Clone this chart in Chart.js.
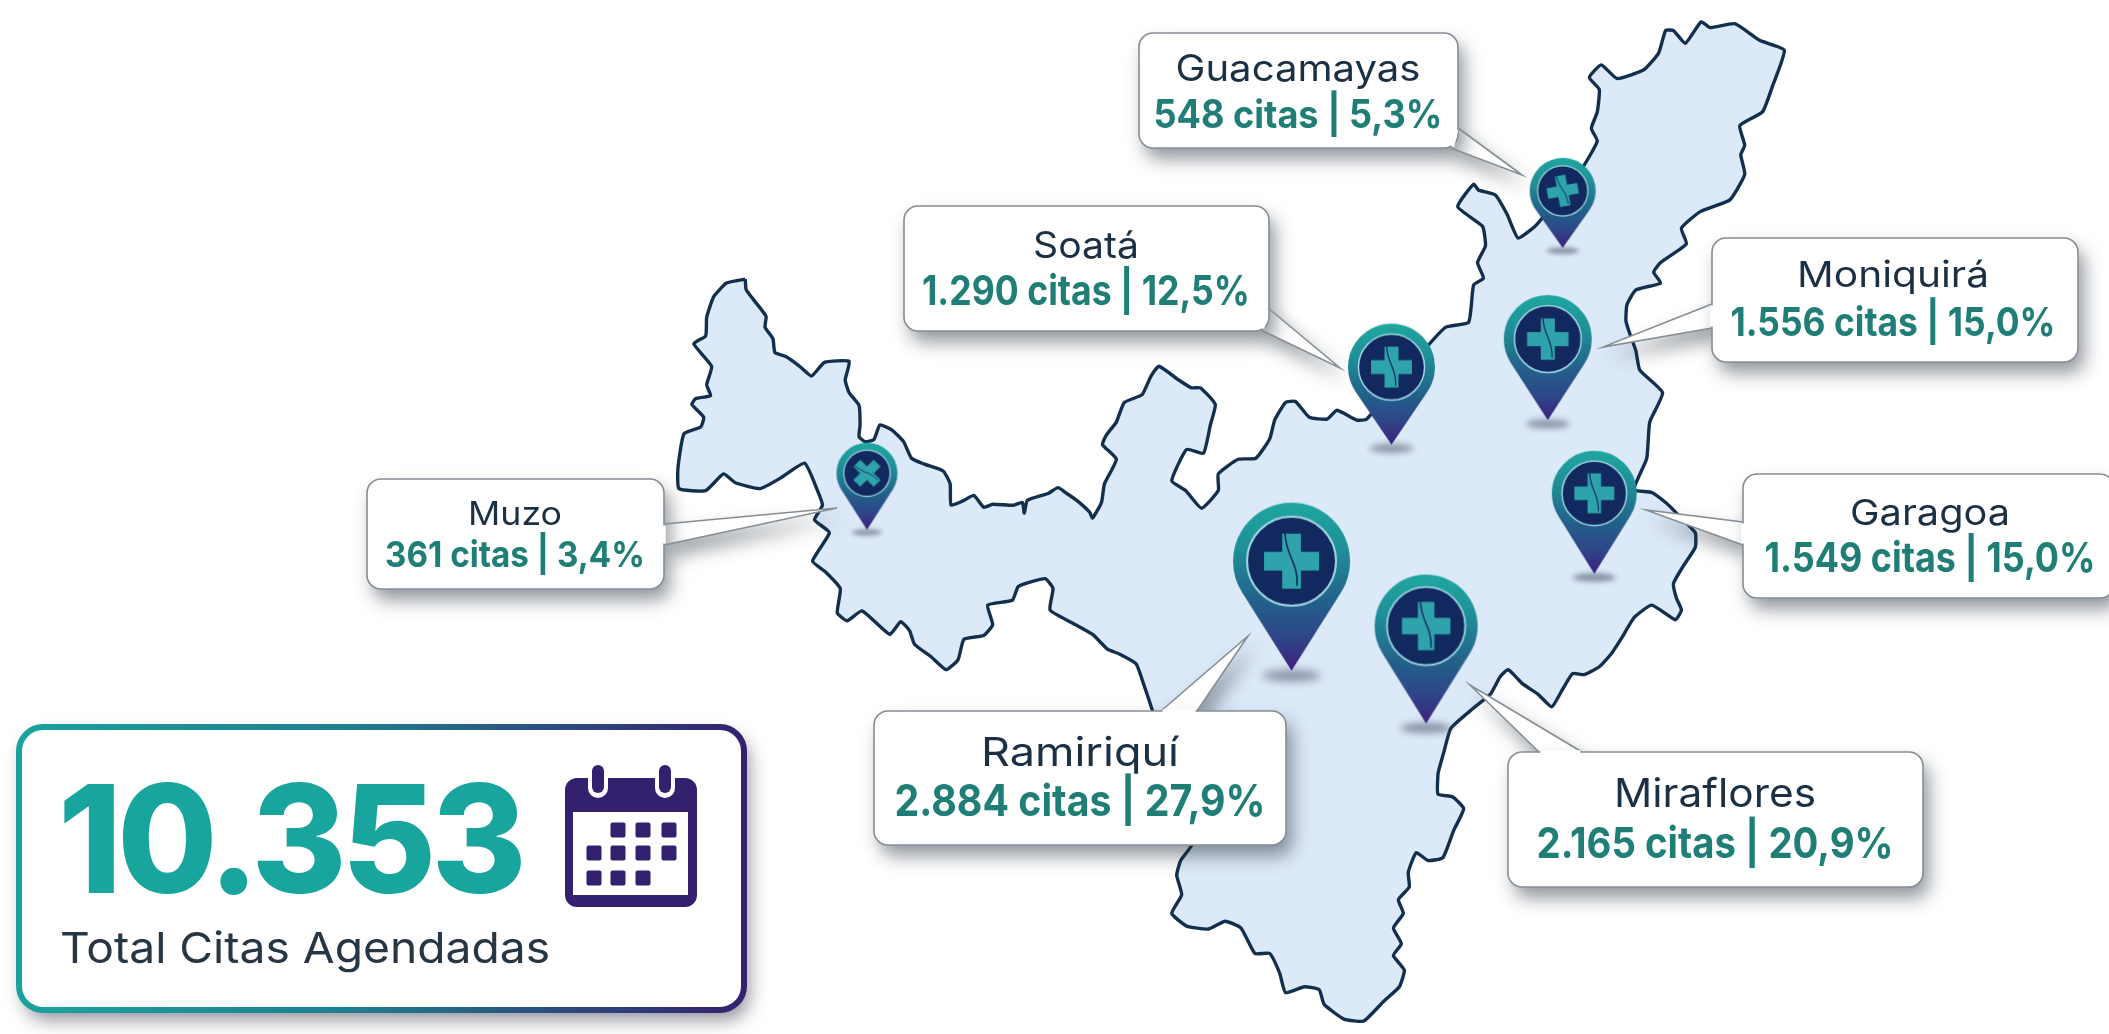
<!DOCTYPE html>
<html lang="es">
<head>
<meta charset="utf-8">
<title>Citas agendadas por sede</title>
<script src="https://cdn.jsdelivr.net/npm/chart.js@4/dist/chart.umd.min.js"></script>
<style>
  html, body { margin: 0; padding: 0; background: #fff; overflow: hidden; }
  canvas { display: block; }
</style>
</head>
<body>
<canvas id="mapa" width="2109" height="1034"></canvas>
<script>
/* global Chart */

// Datos
const sedes = ['Guacamayas', 'Soatá', 'Moniquirá', 'Garagoa', 'Miraflores', 'Ramiriquí', 'Muzo'];
const citas = [548, 1290, 1556, 1549, 2165, 2884, 361];
const porcentajes = [5.3, 12.5, 15.0, 15.0, 20.9, 27.9, 3.4];
const totalCitas = 10353;
const totalTexto = 'Total Citas Agendadas';

// Pin location of each sede, in map units
const pinX = [1568, 1395, 1553, 1600, 1430, 1294, 865];
const pinY = [242, 443, 418, 575, 728, 674, 530];

// Department outline, in map units
const contornoX = [742, 743, 752, 763, 762, 770, 772, 783, 797, 809, 822, 847, 843, 847, 857, 858, 857, 863, 872, 878, 890, 902, 910, 923, 942, 949, 950, 963, 973, 983, 992, 1013, 1022, 1024, 1027, 1048, 1058, 1067, 1077, 1090, 1093, 1102, 1105, 1117, 1103, 1107, 1117, 1125, 1143, 1152, 1160, 1180, 1193, 1202, 1217, 1212, 1205, 1188, 1173, 1187, 1203, 1220, 1220, 1240, 1258, 1272, 1277, 1288, 1298, 1312, 1330, 1340, 1360, 1370, 1431, 1450, 1473, 1478, 1488, 1482, 1490, 1487, 1462, 1478, 1483, 1500, 1512, 1523, 1542, 1588, 1603, 1597, 1603, 1605, 1595, 1607, 1623, 1650, 1665, 1672, 1680, 1692, 1708, 1717, 1742, 1767, 1792, 1780, 1770, 1747, 1752, 1748, 1752, 1737, 1707, 1688, 1693, 1667, 1660, 1667, 1642, 1633, 1632, 1637, 1642, 1646, 1669, 1656, 1653, 1640, 1658, 1673, 1683, 1702, 1702, 1690, 1680, 1683, 1688, 1682, 1658, 1640, 1628, 1617, 1605, 1590, 1578, 1568, 1557, 1543, 1527, 1513, 1505, 1495, 1477, 1455, 1448, 1443, 1442, 1442, 1457, 1468, 1458, 1447, 1432, 1420, 1412, 1413, 1402, 1407, 1397, 1405, 1397, 1408, 1403, 1387, 1367, 1347, 1327, 1322, 1307, 1288, 1282, 1272, 1257, 1243, 1227, 1210, 1188, 1173, 1183, 1178, 1182, 1195, 1151, 1143, 1137, 1120, 1108, 1093, 1072, 1050, 1053, 1045, 1018, 1012, 987, 992, 983, 963, 957, 945, 930, 913, 908, 899, 888, 860, 845, 835, 838, 823, 810, 827, 812, 820, 815, 802, 778, 757, 732, 720, 702, 675, 674, 680, 697, 700, 688, 692, 707, 703, 708, 690, 702, 703, 710, 723, 742];
const contornoY = [274, 285, 297, 312, 323, 335, 349, 353, 363, 373, 359, 358, 377, 390, 403, 423, 435, 440, 438, 423, 428, 440, 457, 463, 470, 483, 505, 500, 495, 507, 504, 505, 502, 513, 500, 493, 487, 493, 500, 512, 518, 502, 483, 458, 443, 433, 420, 400, 392, 373, 363, 377, 385, 385, 402, 423, 452, 448, 480, 490, 508, 490, 473, 458, 457, 437, 418, 400, 399, 415, 417, 408, 418, 417, 343, 323, 318, 280, 273, 257, 240, 220, 200, 177, 183, 188, 208, 232, 218, 160, 133, 120, 103, 80, 68, 55, 69, 60, 43, 20, 20, 33, 11, 17, 13, 30, 40, 77, 103, 117, 137, 147, 167, 193, 205, 222, 238, 257, 267, 278, 285, 300, 317, 333, 347, 367, 390, 420, 457, 489, 492, 503, 513, 533, 548, 567, 585, 600, 612, 622, 607, 620, 640, 657, 670, 678, 677, 693, 711, 698, 687, 673, 680, 698, 713, 733, 757, 775, 780, 800, 803, 815, 837, 865, 868, 860, 880, 895, 908, 922, 937, 953, 965, 980, 997, 1012, 1032, 1030, 1015, 1000, 997, 1003, 983, 963, 963, 937, 930, 938, 935, 922, 903, 883, 868, 848, 707, 683, 667, 657, 652, 637, 625, 612, 590, 580, 588, 602, 607, 627, 638, 642, 663, 673, 660, 647, 633, 624, 637, 613, 623, 615, 590, 573, 562, 533, 520, 505, 490, 462, 477, 488, 482, 473, 490, 488, 467, 432, 425, 415, 402, 396, 393, 382, 363, 340, 332, 313, 292, 278, 274];

// Estilos de cada pin
const pinAncho = [66, 87, 88, 85, 103, 117, 61];
const pinAlto = [90, 121, 125, 123, 149, 168, 87];
const pinGiro = [-10, 0, 0, 0, 0, 0, -45];

// Cajas: left, top, right, bottom, center of text, y name, y value, font sizes, text widths, tail
const cajas = [
  { l: 1139, t: 33, r: 1458, b: 148, cx: 1298, yN: 70, yV: 116, fN: 37, fV: 39, wN: 245, wV: 289, tail: [[1458, 128], [1522, 175], [1451, 148]] },
  { l: 904, t: 206, r: 1269, b: 331, cx: 1086, yN: 247, yV: 293, fN: 37, fV: 41, wN: 106, wV: 328, tail: [[1268, 308], [1340, 368], [1261, 330]] },
  { l: 1712, t: 238, r: 2078, b: 362, cx: 1893, yN: 276, yV: 324, fN: 36, fV: 40, wN: 192, wV: 325, tail: [[1712, 304], [1603, 347], [1712, 328]] },
  { l: 1743, t: 474, r: 2114, b: 598, cx: 1930, yN: 514, yV: 560, fN: 36, fV: 41, wN: 160, wV: 331, tail: [[1743, 522], [1646, 510], [1743, 545]] },
  { l: 1508, t: 752, r: 1923, b: 887, cx: 1715, yN: 795, yV: 845, fN: 39, fV: 43, wN: 202, wV: 357, tail: [[1539, 752], [1470, 685], [1582, 752]] },
  { l: 874, t: 711, r: 1286, b: 845, cx: 1080, yN: 754, yV: 803, fN: 40, fV: 44, wN: 198, wV: 371, tail: [[1161, 711], [1248, 636], [1197, 711]] },
  { l: 367, t: 479, r: 664, b: 589, cx: 515, yN: 515, yV: 556, fN: 33, fV: 36, wN: 94, wV: 260, tail: [[664, 524], [837, 508], [664, 545]] }
];

const COLOR_NOMBRE = '#1c3044';
const COLOR_VALOR = '#1f7f76';
const FUENTE = 'Inter, "Open Sans", sans-serif';

const fmtCitas = (n) => n.toString().replace(/\B(?=(\d{3})+(?!\d))/g, '.');
const fmtPct = (p) => p.toFixed(1).replace('.', ',') + '%';

// Texto centrado, ajustado al ancho medido en la referencia
function drawFit(ctx, txt, cx, y, w, font, color) {
  ctx.save();
  ctx.font = font;
  ctx.fillStyle = color;
  ctx.textAlign = 'center';
  ctx.textBaseline = 'middle';
  const s = w / ctx.measureText(txt).width;
  ctx.translate(cx, y);
  ctx.scale(s, 1);
  ctx.fillText(txt, 0, 0);
  ctx.restore();
}

function drawCaja(ctx, c, i) {
  const w = c.r - c.l, h = c.b - c.t;
  ctx.save();
  ctx.shadowColor = 'rgba(40,50,60,0.5)';
  ctx.shadowBlur = 18;
  ctx.shadowOffsetX = 6;
  ctx.shadowOffsetY = 11;
  ctx.fillStyle = '#fff';
  ctx.beginPath();
  ctx.moveTo(c.tail[0][0], c.tail[0][1]);
  ctx.lineTo(c.tail[1][0], c.tail[1][1]);
  ctx.lineTo(c.tail[2][0], c.tail[2][1]);
  ctx.closePath();
  ctx.fill();
  ctx.beginPath();
  ctx.roundRect(c.l, c.t, w, h, 14);
  ctx.fill();
  ctx.restore();

  ctx.save();
  ctx.strokeStyle = '#868e95';
  ctx.lineWidth = 1.6;
  ctx.beginPath();
  ctx.roundRect(c.l, c.t, w, h, 14);
  ctx.stroke();
  ctx.beginPath();
  ctx.moveTo(c.tail[0][0], c.tail[0][1]);
  ctx.lineTo(c.tail[1][0], c.tail[1][1]);
  ctx.lineTo(c.tail[2][0], c.tail[2][1]);
  ctx.stroke();
  // hide the seam between tail and box
  ctx.strokeStyle = '#fff';
  ctx.lineWidth = 3.5;
  ctx.beginPath();
  const dx = Math.sign(c.tail[2][0] - c.tail[0][0]), dy = Math.sign(c.tail[2][1] - c.tail[0][1]);
  ctx.moveTo(c.tail[0][0] + dx * 1.5, c.tail[0][1] + dy * 1.5);
  ctx.lineTo(c.tail[2][0] - dx * 1.5, c.tail[2][1] - dy * 1.5);
  ctx.stroke();
  ctx.restore();

  drawFit(ctx, sedes[i], c.cx, c.yN, c.wN, `400 ${c.fN}px ${FUENTE}`, COLOR_NOMBRE);
  drawFit(ctx, `${fmtCitas(citas[i])} citas | ${fmtPct(porcentajes[i])}`, c.cx, c.yV, c.wV, `700 ${c.fV}px ${FUENTE}`, COLOR_VALOR);
}

function drawTotal(ctx) {
  const g = ctx.createLinearGradient(17, 0, 746, 0);
  g.addColorStop(0, '#1aa39e');
  g.addColorStop(0.45, '#1f7f8f');
  g.addColorStop(1, '#35206f');
  ctx.save();
  ctx.shadowColor = 'rgba(40,40,60,0.5)';
  ctx.shadowBlur = 18;
  ctx.shadowOffsetX = 5;
  ctx.shadowOffsetY = 10;
  ctx.fillStyle = '#fff';
  ctx.beginPath();
  ctx.roundRect(19, 727, 725, 283, 24);
  ctx.fill();
  ctx.restore();
  ctx.strokeStyle = g;
  ctx.lineWidth = 6;
  ctx.beginPath();
  ctx.roundRect(19, 727, 725, 283, 24);
  ctx.stroke();

  ctx.save();
  ctx.font = `800 150px ${FUENTE}`;
  ctx.letterSpacing = '-5px';
  ctx.fillStyle = '#17a59e';
  ctx.textAlign = 'center';
  ctx.textBaseline = 'alphabetic';
  const txt = fmtCitas(totalCitas);
  ctx.translate(290, 893);
  ctx.scale(464 / ctx.measureText(txt).width, 1);
  ctx.fillText(txt, 0, 0);
  ctx.restore();

  ctx.save();
  ctx.font = `400 43px ${FUENTE}`;
  ctx.fillStyle = '#263644';
  ctx.textBaseline = 'alphabetic';
  ctx.translate(60, 963);
  ctx.scale(490 / ctx.measureText(totalTexto).width, 1);
  ctx.fillText(totalTexto, 0, 0);
  ctx.restore();

  // calendario
  const morado = '#33206f';
  ctx.fillStyle = morado;
  ctx.beginPath();
  ctx.roundRect(565, 778, 132, 129, 12);
  ctx.fill();
  ctx.fillStyle = '#fff';
  ctx.fillRect(573, 812, 115, 83);
  [598, 665].forEach((x) => {
    ctx.fillStyle = '#fff';
    ctx.beginPath();
    ctx.roundRect(x - 10, 764, 20, 34, 10);
    ctx.fill();
    ctx.fillStyle = morado;
    ctx.beginPath();
    ctx.roundRect(x - 6, 765, 12, 28, 6);
    ctx.fill();
  });
  ctx.fillStyle = morado;
  const cols = [594, 618, 643, 669];
  const filas = [[830, [1, 2, 3]], [853, [0, 1, 2, 3]], [878, [0, 1, 2]]];
  filas.forEach(([y, idx]) => idx.forEach((k) => {
    ctx.beginPath();
    ctx.roundRect(cols[k] - 7.5, y - 7.5, 15, 15, 2);
    ctx.fill();
  }));
}

// Pin as an image whose centre is the tip, so the point sits on the tip
function crearPin(w, h, giro) {
  const c = document.createElement('canvas');
  c.width = Math.ceil(w + 40);
  c.height = Math.ceil((h + 20) * 2);
  const ctx = c.getContext('2d');
  const cx = c.width / 2, tip = c.height / 2, top = tip - h, r = w / 2, cy = top + r;
  const sc = w / 117;

  ctx.save();
  ctx.filter = `blur(${Math.max(2, 4 * sc)}px)`;
  ctx.fillStyle = 'rgba(70,80,100,0.55)';
  ctx.beginPath();
  ctx.ellipse(cx, tip + 5 * sc, r * 0.5, 6 * sc, 0, 0, Math.PI * 2);
  ctx.fill();
  ctx.restore();

  const d = h - r;
  const a = Math.acos(r / d);
  const ang = Math.PI / 2 - a;
  const g = ctx.createLinearGradient(0, top, 0, tip);
  g.addColorStop(0, '#1fa7a1');
  g.addColorStop(0.28, '#1f8f98');
  g.addColorStop(0.6, '#235f8a');
  g.addColorStop(0.82, '#2f4488');
  g.addColorStop(1, '#3f1f7c');
  ctx.fillStyle = g;
  ctx.beginPath();
  ctx.moveTo(cx, tip);
  ctx.lineTo(cx + r * Math.cos(ang), cy + r * Math.sin(ang));
  ctx.arc(cx, cy, r, ang, Math.PI - ang, true);
  ctx.closePath();
  ctx.fill();

  const ri = r * 0.76;
  ctx.fillStyle = '#12295f';
  ctx.strokeStyle = '#9fd6e2';
  ctx.lineWidth = Math.max(1.2, 2 * sc);
  ctx.beginPath();
  ctx.arc(cx, cy, ri, 0, Math.PI * 2);
  ctx.fill();
  ctx.stroke();

  // cruz
  ctx.save();
  ctx.translate(cx, cy);
  ctx.rotate(giro * Math.PI / 180);
  const L = r * 0.47, A = r * 0.16;
  ctx.fillStyle = '#2fa3ab';
  ctx.fillRect(-L, -A, L * 2, A * 2);
  ctx.fillRect(-A, -L, A * 2, L * 2);
  ctx.strokeStyle = '#12295f';
  ctx.lineWidth = Math.max(0.8, 1.6 * sc);
  ctx.beginPath();
  ctx.moveTo(-A * 0.7, -L);
  ctx.bezierCurveTo(-A * 0.5, -A * 0.2, A * 0.7, 0, A * 0.6, L * 0.9);
  ctx.stroke();
  ctx.restore();
  return c;
}

const pinImgs = sedes.map((_, i) => crearPin(pinAncho[i], pinAlto[i], pinGiro[i]));

const capas = {
  id: 'capas',
  afterDatasetDraw(chart, args) {
    if (args.index !== 0) return;
    const ctx = chart.ctx;
    cajas.forEach((c, i) => drawCaja(ctx, c, i));
    drawTotal(ctx);
  }
};

new Chart(document.getElementById('mapa'), {
  type: 'scatter',
  data: {
    datasets: [
      {
        label: 'Contorno',
        order: 2,
        data: contornoX.map((x, i) => ({ x, y: contornoY[i] })),
        showLine: true,
        fill: 'shape',
        backgroundColor: '#dce9f8',
        borderColor: '#12304d',
        borderWidth: 3.4,
        borderJoinStyle: 'round',
        tension: 0.15,
        pointRadius: 0
      },
      {
        label: 'Sedes',
        order: 1,
        data: pinX.map((x, i) => ({ x, y: pinY[i] })),
        showLine: false,
        pointStyle: pinImgs,
        pointRadius: 10
      }
    ]
  },
  options: {
    responsive: false,
    animation: false,
    layout: { padding: 0 },
    events: [],
    plugins: { legend: { display: false }, tooltip: { enabled: false } },
    scales: {
      x: { type: 'linear', min: 0, max: 2109, display: false },
      y: { type: 'linear', min: 0, max: 1034, reverse: true, display: false }
    }
  },
  plugins: [capas]
});
</script>
</body>
</html>
